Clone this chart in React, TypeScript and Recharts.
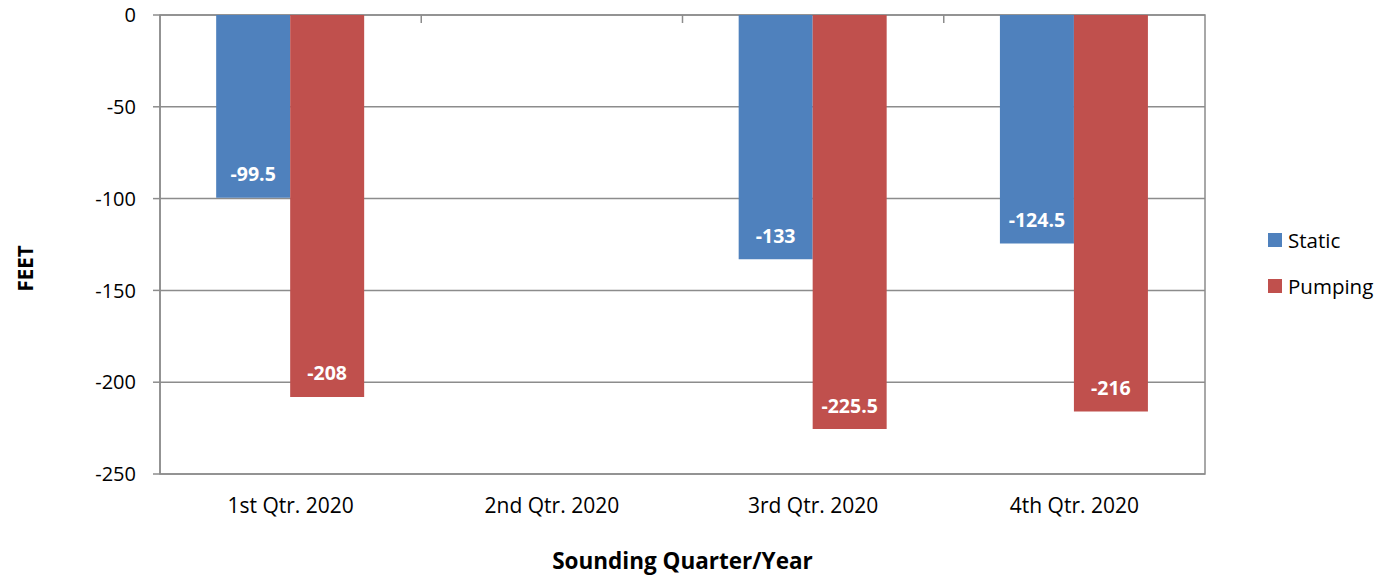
import React from 'react';
import {
  BarChart,
  Bar,
  XAxis,
  YAxis,
  CartesianGrid,
  Legend,
  LabelList,
  ReferenceArea,
} from 'recharts';

const quarters = ['1st Qtr. 2020', '2nd Qtr. 2020', '3rd Qtr. 2020', '4th Qtr. 2020'];
const staticLevels: (number | null)[] = [-99.5, null, -133, -124.5];
const pumpingLevels: (number | null)[] = [-208, null, -225.5, -216];
const yTicks = [0, -50, -100, -150, -200, -250];

const BLUE = '#4F81BD';
const RED = '#C0504D';
const GRID = '#8C8C8C';
const FONT = '"Open Sans", sans-serif';

const data = quarters.map((q, i) => ({
  quarter: q,
  slot: i + 0.5,
  static: staticLevels[i],
  pumping: pumpingLevels[i],
}));

// value label sitting just inside the far end of each (downward) bar
const EndLabel = (props: any) => {
  const { x, y, width, height, value } = props;
  if (value == null) return null;
  const bottom = Math.max(y, y + height);
  return (
    <text
      x={x + width / 2}
      y={bottom - 24}
      fill="#fff"
      fontFamily={FONT}
      fontWeight={700}
      fontSize={19.5}
      textAnchor="middle"
      dominantBaseline="central"
    >
      {value}
    </text>
  );
};

const FeetLabel = (props: any) => {
  const { viewBox } = props;
  const cx = 25;
  const cy = viewBox.y + viewBox.height / 2 + 24;
  return (
    <text
      x={cx}
      y={cy}
      transform={`rotate(-90, ${cx}, ${cy})`}
      textAnchor="middle"
      dominantBaseline="central"
      fill="#000"
      fontFamily={FONT}
      fontWeight={700}
      fontSize={20.5}
    >
      FEET
    </text>
  );
};

const LegendBox = () => (
  <div style={{ fontFamily: FONT, fontSize: 20.5, color: '#000' }}>
    {[
      { name: 'Static', color: BLUE },
      { name: 'Pumping', color: RED },
    ].map((item, i) => (
      <div
        key={item.name}
        style={{ display: 'flex', alignItems: 'center', height: 28, marginBottom: i === 0 ? 18 : 0 }}
      >
        <span style={{ width: 14, height: 14, background: item.color, marginRight: 6, display: 'inline-block' }} />
        {item.name}
      </div>
    ))}
  </div>
);

export default function App() {
  return (
    <div style={{ position: 'absolute', left: 0, top: 0, background: '#fff' }}>
      <BarChart
        width={1385}
        height={579}
        data={data}
        margin={{ top: 15, right: 63, left: 0, bottom: 0 }}
        barCategoryGap="21.5%"
        barGap={0}
      >
        <CartesianGrid vertical={false} stroke={GRID} strokeWidth={1.5} />
        <ReferenceArea y1={-250} y2={0} fill="none" stroke={GRID} strokeWidth={1.5} ifOverflow="extendDomain" />
        <XAxis
          dataKey="quarter"
          height={105}
          axisLine={false}
          tickLine={false}
          tickSize={0}
          tickMargin={24}
          tick={{ fill: '#000', fontFamily: FONT, fontSize: 21 }}
          label={{
            value: 'Sounding Quarter/Year',
            position: 'insideBottom',
            offset: 10,
            fill: '#000',
            fontFamily: FONT,
            fontWeight: 700,
            fontSize: 22.5,
          }}
        />
        {/* category boundary tick marks hanging from the zero line */}
        <XAxis
          xAxisId="top"
          type="number"
          dataKey="slot"
          orientation="top"
          domain={[0, 4]}
          ticks={[1, 2, 3]}
          height={1}
          mirror
          tickFormatter={() => ''}
          tickSize={8}
          axisLine={false}
          tickLine={{ stroke: GRID, strokeWidth: 1.5 }}
        />
        <YAxis
          domain={[-250, 0]}
          ticks={yTicks}
          width={160}
          interval={0}
          axisLine={{ stroke: GRID, strokeWidth: 1.5 }}
          tickLine={{ stroke: GRID, strokeWidth: 1.5 }}
          tickSize={7}
          tickMargin={17}
          tick={{ fill: '#000', fontFamily: FONT, fontSize: 20 }}
          label={<FeetLabel />}
        />
        <Legend
          layout="vertical"
          align="right"
          verticalAlign="top"
          content={<LegendBox />}
          wrapperStyle={{ left: 1268, top: 226, width: 117 }}
        />
        <Bar dataKey="static" name="Static" fill={BLUE} isAnimationActive={false}>
          <LabelList dataKey="static" content={<EndLabel />} />
        </Bar>
        <Bar dataKey="pumping" name="Pumping" fill={RED} isAnimationActive={false}>
          <LabelList dataKey="pumping" content={<EndLabel />} />
        </Bar>
      </BarChart>
    </div>
  );
}
